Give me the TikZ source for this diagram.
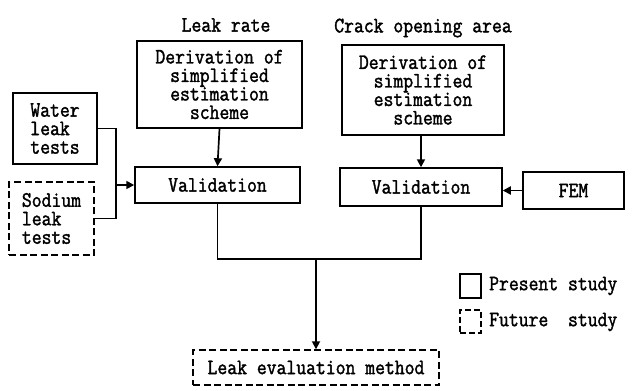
\documentclass[tikz,border=0pt]{standalone}
\usepackage{fontspec}
\usetikzlibrary{arrows.meta}
\newfontfamily\condmono[FakeStretch=0.87,FakeBold=1.6]{Latin Modern Mono}
\begin{document}
\begin{tikzpicture}[x=1pt,y=-1pt,
  txt/.style={font=\condmono\fontsize{22}{18.5}\selectfont, inner sep=0pt},
  solidbox/.style={draw, line width=1.5pt, inner sep=0pt},
  dbox/.style={draw, line width=1.4pt, dash pattern=on 7pt off 3.5pt, inner sep=0pt},
  conn/.style={line width=1.7pt},
  arr/.style={conn, -{Triangle[length=8pt,width=8pt]}}]
\useasboundingbox (0,0) rectangle (633,391);
% labels
\node[txt] (lr) at (226,25) {Leak rate};
\node[txt] (cr) at (423,28) {Crack opening area};
% boxes
\node[txt, solidbox, minimum width=165pt, minimum height=87pt, align=center] (d1) at (219.5,84.5) {Derivation of\\simplified\\estimation\\scheme};
\node[txt, solidbox, minimum width=162pt, minimum height=90pt, align=center] (d2) at (423,90) {Derivation of\\simplified\\estimation\\scheme};
\node[txt, solidbox, minimum width=165pt, minimum height=36pt] (v1) at (217.5,185) {Validation};
\node[txt, solidbox, minimum width=162pt, minimum height=38pt] (v2) at (421,187) {Validation};
\node[txt, solidbox, minimum width=101pt, minimum height=37pt] (fem) at (573.5,190.5) {FEM};
\node[txt, solidbox, minimum width=84pt, minimum height=71pt, align=left] (water) at (55,128.5) {Water\\leak\\tests};
\node[txt, dbox, minimum width=85pt, minimum height=73pt, align=left] (sodium) at (51.5,218.5) {Sodium\\leak\\tests};
\node[txt, dbox, minimum width=246pt, minimum height=35pt] (leak) at (316,367.5) {Leak evaluation method};
% legend
\node[solidbox, minimum width=21pt, minimum height=24pt] (lg1) at (470.5,286) {};
\node[dbox, dash pattern=on 6pt off 3pt, minimum width=21pt, minimum height=23pt] (lg2) at (470.5,321.5) {};
\node[txt, anchor=west] (lt1) at (489,286) {Present study};
\node[txt, anchor=west] (lt2) at (489,322) {Future\ \ study};
% connectors
\coordinate (j) at (116,185);
\draw[conn] (water.east) -| (j);
\draw[conn] (sodium.east) -| (j);
\draw[arr] (j) -- (v1.west);
\draw[arr] (d1.south) -- (v1.north);
\draw[arr] (d2.south -| v2.north) -- (v2.north);
\draw[arr] (fem.west) -- (v2.east |- fem.west);
\coordinate (m) at (316,259);
\draw[conn] (v1.south) |- (m) -| (v2.south);
\draw[arr] (m) -- (leak.north);
\end{tikzpicture}
\end{document}
